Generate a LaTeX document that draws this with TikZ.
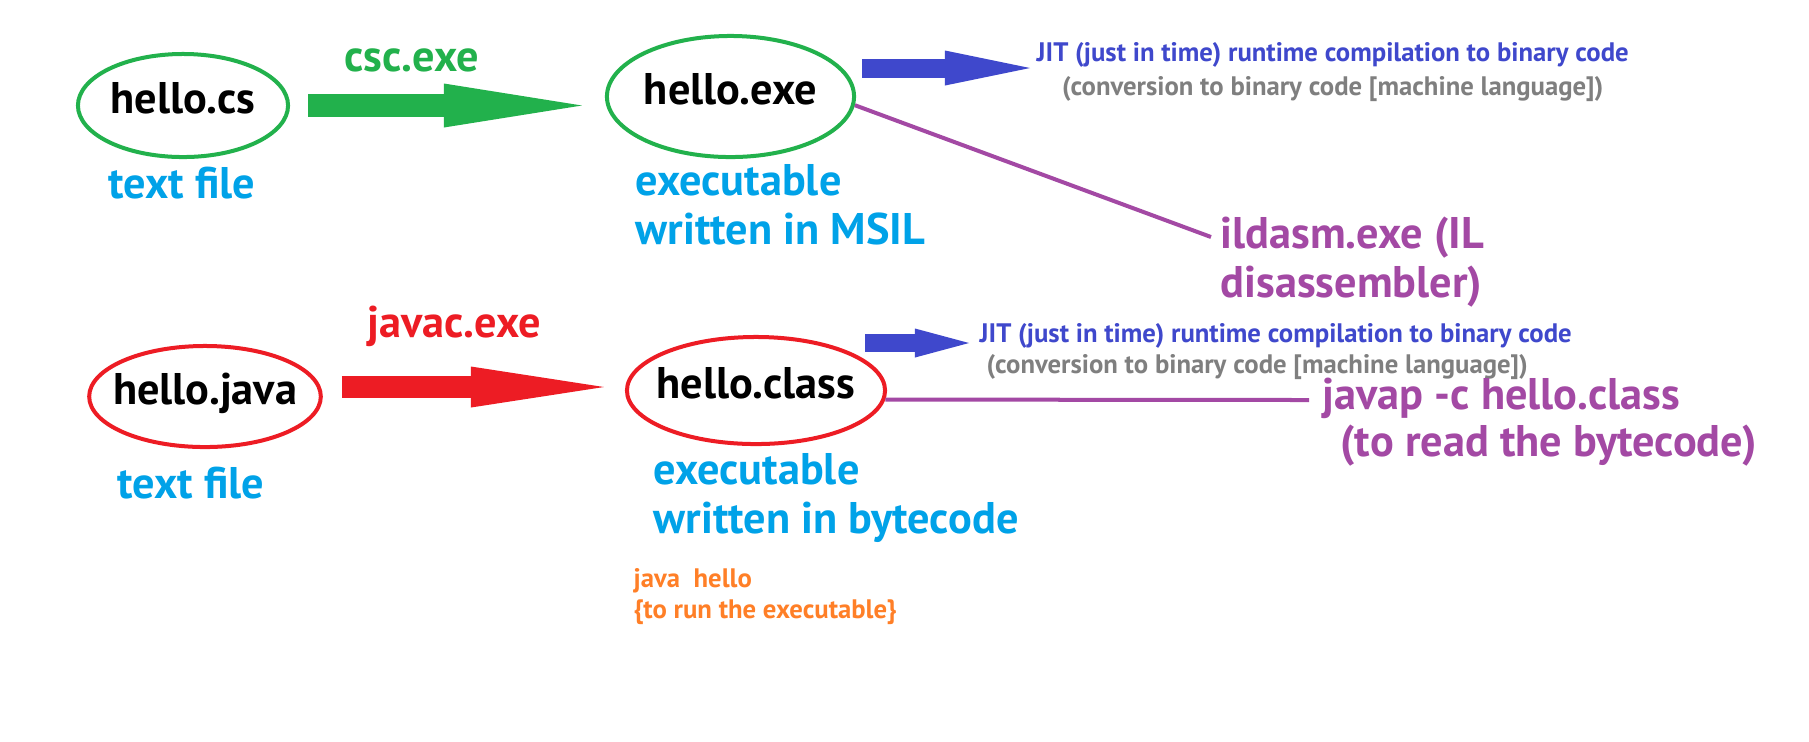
\documentclass[tikz,border=0pt]{standalone}
\usepackage{fontspec}
\setmainfont{PT Sans}
\usetikzlibrary{positioning, arrows.meta, calc, shapes.geometric}
\definecolor{csgreen}{HTML}{22B14C}
\definecolor{javared}{HTML}{ED1C24}
\definecolor{descblue}{HTML}{00A2E8}
\definecolor{jitblue}{HTML}{3F48CC}
\definecolor{jitgray}{HTML}{7F7F7F}
\definecolor{toolpurple}{HTML}{A349A4}
\definecolor{runorange}{HTML}{FF7F27}
\newcommand{\filefont}{\fontsize{12.6pt}{13.7pt}\selectfont\bfseries}
\newcommand{\notefont}{\fontsize{7.6pt}{8.6pt}\selectfont\bfseries}

\begin{document}
\begin{tikzpicture}[
    x=0.01cm, y=-0.01cm,
    every node/.style={inner sep=0pt},
    file/.style={
        ellipse, draw=#1, line width=0.04cm, font=\filefont,
        inner xsep=-0.3cm, text height=0.16cm, text depth=0pt
    },
    desc/.style={font=\filefont, text=descblue, align=left, anchor=base west},
    tool/.style={font=\filefont, text=#1, anchor=base west},
    note/.style={font=\notefont, text=#1, anchor=base west},
    bigarrow/.style n args={4}{
        draw=#1, line width=#2,
        -{Triangle[length=#3, width=#4, line width=0pt]}
    },
    link/.style={draw=toolpurple, line width=0.04cm},
]

\path[use as bounding box, fill=white] (0,0) rectangle (1809,741);

% === C# row ===
\node[file=csgreen, minimum width=2.10cm, minimum height=1.03cm] (cs) at (183,105.5) {hello.cs};
\node[file=csgreen, minimum width=2.47cm, minimum height=1.21cm] (exe) at (730.5,96.5) {hello.exe};
\node[tool=csgreen] (csc) at (344,71) {csc.exe};
\node[desc] (cstext) at (108,198) {text file};
\node[desc] (msil) at (635,244) {executable\\written in MSIL};
\node[note=jitblue, align=center] (jit) at (1036,95)
    {JIT (just in time) runtime compilation to binary code\\[0.03cm]
     \textcolor{jitgray}{(conversion to binary code [machine language])}};
\node[tool=toolpurple, align=left] (ildasm) at (1220,297) {ildasm.exe (IL\\disassembler)};

% === Java row ===
\node[file=javared, minimum width=2.315cm, minimum height=1.01cm] (java) at (205,396.5) {hello.java};
\node[file=javared, minimum width=2.58cm, minimum height=1.07cm] (class) at (756,390.5) {hello.class};
\node[tool=javared] (javac) at (367,337) {javac.exe};
\node[desc] (javatext) at (117,498) {text file};
\node[desc] (bytecode) at (653,533) {executable\\written in bytecode};
\node[note=jitblue, align=left] (jit2) at (979,373)
    {JIT (just in time) runtime compilation to binary code\\
     \hspace*{0.07cm}\textcolor{jitgray}{(conversion to binary code [machine language])}};
\node[tool=toolpurple, align=left] (javap) at (1322,456)
    {javap -c hello.class\\[-0.02cm]\hspace*{0.18cm}(to read the bytecode)};
\node[note=runorange, align=left] (run) at (633,618) {java\ \ hello\\\{to run the executable\}};

% ===== ARROWS =====

% compile steps
\draw[bigarrow={csgreen}{0.23cm}{1.38cm}{0.44cm}, shorten <=0.18cm, shorten >=0.23cm]
    (cs.east) -- (cs.east -| exe.west);

\coordinate (javaout) at ($(java.east)+(0,-9.5)$);
\draw[bigarrow={javared}{0.22cm}{1.33cm}{0.41cm}, shorten <=0.19cm, shorten >=0.21cm]
    (javaout) -- (javaout -| class.west);

% JIT arrows
\coordinate (jitin) at ($(jit.base west)+(-6,-27)$);
\draw[bigarrow={jitblue}{0.19cm}{0.85cm}{0.35cm}, shorten <=0.06cm]
    (jitin -| exe.east) -- (jitin);

\coordinate (jitin2) at ($(jit2.base west)+(-10,-30)$);
\draw[bigarrow={jitblue}{0.18cm}{0.54cm}{0.29cm}, shorten <=-0.22cm]
    (jitin2 -| class.east) -- (jitin2);

% disassembler links
\draw[link] (exe.-4) -- ($(ildasm.base west)+(-9,-60)$);
\draw[link] (class.-4) -- ($(javap.base west)+(-13,-56)$);

\end{tikzpicture}
\end{document}
